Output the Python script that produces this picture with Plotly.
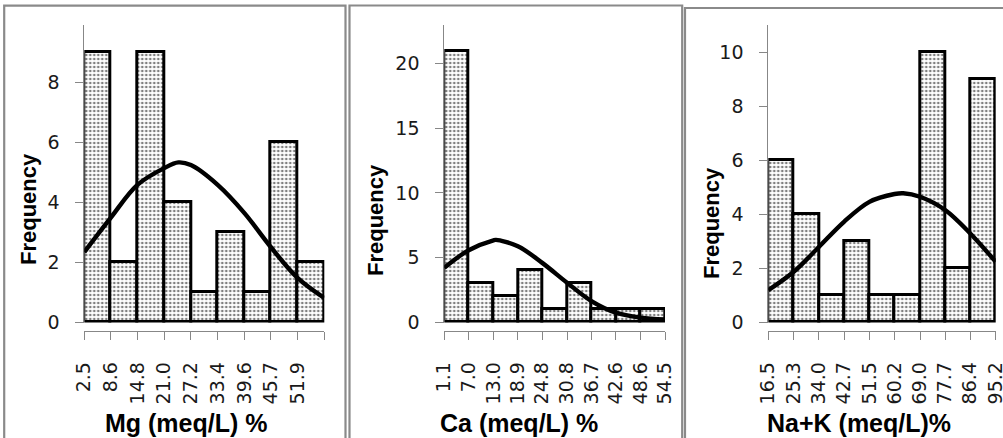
import plotly.graph_objects as go

# ---------------- data ----------------
mg_edges = [2.5, 8.6, 14.8, 21.0, 27.2, 33.4, 39.6, 45.7, 51.9, 58.1]
mg_labels = ["2.5", "8.6", "14.8", "21.0", "27.2", "33.4", "39.6", "45.7", "51.9", ""]
mg_counts = [9, 2, 9, 4, 1, 3, 1, 6, 2]
mg_curve_x = [2.5, 8.6, 14.8, 21.0, 24.3, 27.2, 33.4, 39.6, 45.7, 51.9, 58.1]
mg_curve_y = [2.33, 3.47, 4.57, 5.13, 5.32, 5.23, 4.57, 3.63, 2.50, 1.47, 0.80]

ca_edges = [1.1, 7.0, 13.0, 18.9, 24.8, 30.8, 36.7, 42.6, 48.6, 54.5]
ca_labels = ["1.1", "7.0", "13.0", "18.9", "24.8", "30.8", "36.7", "42.6", "48.6", "54.5"]
ca_counts = [21, 3, 2, 4, 1, 3, 1, 1, 1]
ca_curve_x = [1.1, 7.0, 13.0, 13.6, 18.9, 24.8, 30.8, 36.7, 42.6, 48.6, 54.5]
ca_curve_y = [4.20, 5.56, 6.33, 6.36, 5.87, 4.58, 3.04, 1.62, 0.72, 0.34, 0.20]

nak_edges = [16.5, 25.3, 34.0, 42.7, 51.5, 60.2, 69.0, 77.7, 86.4, 95.2]
nak_labels = ["16.5", "25.3", "34.0", "42.7", "51.5", "60.2", "69.0", "77.7", "86.4", "95.2"]
nak_counts = [6, 4, 1, 3, 1, 1, 10, 2, 9]
nak_curve_x = [16.5, 25.3, 34.0, 42.7, 51.5, 60.2, 63.2, 69.0, 77.7, 86.4, 95.2]
nak_curve_y = [1.18, 1.86, 2.78, 3.71, 4.45, 4.74, 4.77, 4.64, 4.15, 3.28, 2.23]

titles_x = ["Mg (meq/L) %", "Ca (meq/L) %", "Na+K (meq/L)%"]
y_title = "Frequency"

# ---------------- layout helpers ----------------
W, H = 1003, 438
def X(p): return p / W
def Y(p): return 1 - p / H

panels = [
    dict(edges=mg_edges, labels=mg_labels, counts=mg_counts, cx=mg_curve_x, cy=mg_curve_y,
         xdom=(84.3, 324.3), ymax=9.9, yticks=[0, 2, 4, 6, 8], scale=30.0,
         ytit=(28.5, 209.5), xtit=(186, 423)),
    dict(edges=ca_edges, labels=ca_labels, counts=ca_counts, cx=ca_curve_x, cy=ca_curve_y,
         xdom=(444.3, 665.0), ymax=23.0, yticks=[0, 5, 10, 15, 20], scale=12.95,
         ytit=(375, 220), xtit=(519, 423)),
    dict(edges=nak_edges, labels=nak_labels, counts=nak_counts, cx=nak_curve_x, cy=nak_curve_y,
         xdom=(768.3, 995.7), ymax=11.0, yticks=[0, 2, 4, 6, 8, 10], scale=26.94,
         ytit=(711, 223), xtit=(859, 423)),
]

AXC = "#878787"
TICKFONT = dict(family="DejaVu Sans", size=19, color="#1a1a1a")

fig = go.Figure()
annotations = []
shapes = []

for i, p in enumerate(panels):
    n = "" if i == 0 else str(i + 1)
    xa, ya = "x" + n, "y" + n
    xl = "x" + str(i + 4)
    e = p["edges"]
    centers = [(e[k] + e[k + 1]) / 2 for k in range(len(e) - 1)]
    widths = [e[k + 1] - e[k] for k in range(len(e) - 1)]
    fig.add_trace(go.Bar(
        x=centers, y=p["counts"], width=widths, xaxis=xa, yaxis=ya,
        marker=dict(color="white", line=dict(color="black", width=3),
                    pattern=dict(shape=".", size=4, solidity=0.35,
                                 fgcolor="black", bgcolor="white")),
        showlegend=False, hoverinfo="skip"))
    # normal curve drawn on the overlay x axis (same range) so that axis is rendered
    fig.add_trace(go.Scatter(
        x=p["cx"], y=p["cy"], mode="lines", xaxis=xl, yaxis=ya,
        line=dict(color="black", width=4.4, shape="spline", smoothing=1.0),
        showlegend=False, hoverinfo="skip"))

    lo = -0.6 / p["scale"]
    dom = [X(p["xdom"][0]), X(p["xdom"][1])]
    # visible axis line + short ticks
    fig.layout["xaxis" + n] = dict(
        domain=dom, anchor="free", position=Y(330.5),
        range=[e[0], e[-1]], showline=True, linecolor=AXC, linewidth=1,
        ticks="outside", ticklen=8, tickcolor=AXC, tickwidth=1,
        tickvals=e, showticklabels=False,
        showgrid=False, zeroline=False, fixedrange=True, automargin=False)
    # overlay axis carrying the rotated tick labels further down
    fig.layout["xaxis" + str(i + 4)] = dict(
        domain=dom, anchor="free", position=Y(330.5), overlaying=xa,
        range=[e[0], e[-1]], showline=False,
        ticks="outside", ticklen=23, tickcolor="rgba(0,0,0,0)", tickwidth=1,
        tickvals=e, ticktext=p["labels"], tickangle=-90, tickfont=TICKFONT,
        ticklabeloverflow="allow",
        showgrid=False, zeroline=False, fixedrange=True, automargin=False)
    fig.layout["yaxis" + n] = dict(
        domain=[Y(322.6), Y(25)], anchor=xa,
        range=[lo, p["ymax"]], showline=True, linecolor=AXC, linewidth=1,
        ticks="outside", ticklen=8, tickcolor=AXC, tickwidth=1,
        tickvals=p["yticks"], tickfont=TICKFONT, ticklabelstandoff=12,
        showgrid=False, zeroline=False, fixedrange=True, automargin=False)

    annotations.append(dict(
        text="<b>" + y_title + "</b>", textangle=-90, showarrow=False,
        xref="paper", yref="paper", x=X(p["ytit"][0]), y=Y(p["ytit"][1]),
        xanchor="center", yanchor="middle",
        font=dict(family="Liberation Sans", size=22, color="black")))
    annotations.append(dict(
        text="<b>" + titles_x[i] + "</b>", showarrow=False,
        xref="paper", yref="paper", x=X(p["xtit"][0]), y=Y(p["xtit"][1]),
        xanchor="center", yanchor="middle",
        font=dict(family="Liberation Sans", size=25, color="black")))

# panel borders
for (x0, y0, x1) in [(4.2, 5.7, 345.5), (349.5, 5.5, 682.2), (685.0, 8.0, 1012.0)]:
    shapes.append(dict(type="rect", xref="paper", yref="paper",
                       x0=X(x0), x1=X(x1), y0=Y(y0), y1=Y(470),
                       line=dict(color="#8a8a8a", width=2.2), fillcolor="rgba(0,0,0,0)"))

fig.update_layout(
    width=W, height=H, autosize=False,
    margin=dict(l=0, r=0, t=0, b=0, pad=0, autoexpand=False),
    paper_bgcolor="white", plot_bgcolor="white",
    bargap=0, showlegend=False,
    annotations=annotations, shapes=shapes)

fig.write_html("out.html")
